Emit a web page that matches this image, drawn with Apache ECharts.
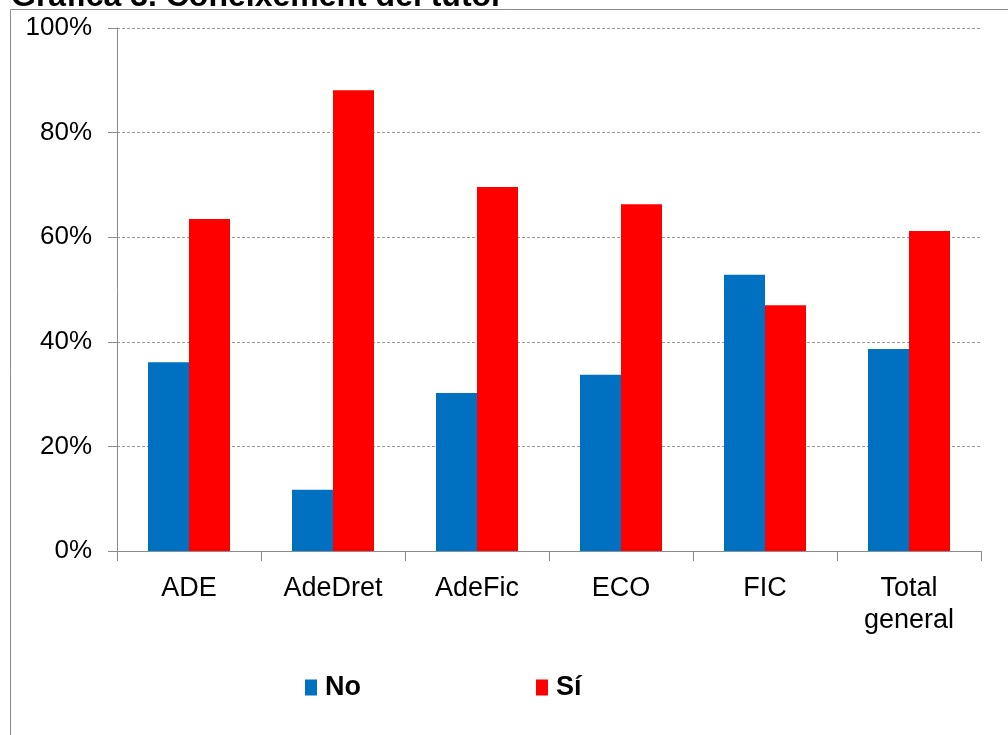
<!DOCTYPE html>
<html lang="ca">
<head>
<meta charset="UTF-8">
<title>Gràfica 3. Coneixement del tutor</title>
<script src="https://cdn.jsdelivr.net/npm/echarts@6/dist/echarts.min.js"></script>
<style>
  html, body { margin: 0; padding: 0; background: #fff; }
  #main { width: 1008px; height: 735px; }
</style>
</head>
<body>
<div id="main"></div>
<script>
// dades llegides del gràfic
var categories = ['ADE', 'AdeDret', 'AdeFic', 'ECO', 'FIC', 'Total general'];
var seriesNames = ['No', 'Sí'];
var valuesNo = [0.361, 0.117, 0.302, 0.337, 0.528, 0.386];
var valuesSi = [0.635, 0.881, 0.696, 0.663, 0.470, 0.612];
var colors = ['#0070C0', '#FF0000'];

var font = '"Liberation Sans", Arial, sans-serif';

var chart = echarts.init(document.getElementById('main'));

chart.setOption({
    animation: false,
    textStyle: { fontFamily: font },
    graphic: [
        {
            type: 'rect',
            shape: { x: 10.5, y: 9.5, width: 1100, height: 800 },
            style: { fill: 'none', stroke: '#8c8c8c', lineWidth: 1 },
            z: 0
        },
        {
            type: 'text',
            left: 11,
            top: -19,
            style: {
                text: 'Gràfica 3. Coneixement del tutor',
                font: 'bold 32px ' + font,
                fill: '#000'
            },
            z: 1
        }
    ],
    legend: {
        left: 305,
        top: 674,
        padding: 0,
        itemWidth: 12,
        itemHeight: 16,
        itemGap: 175,
        icon: 'rect',
        data: seriesNames,
        textStyle: {
            fontSize: 27,
            fontWeight: 'bold',
            color: '#000',
            fontFamily: font,
            padding: [0, 0, 0, 3]
        }
    },
    grid: { left: 117, right: 27, top: 28, bottom: 184 },
    xAxis: {
        type: 'category',
        data: categories,
        axisLine: { lineStyle: { color: '#8c8c8c', width: 1 } },
        axisTick: { show: true, length: 10, lineStyle: { color: '#8c8c8c' } },
        axisLabel: {
            interval: 0,
            margin: 22,
            fontSize: 27,
            lineHeight: 32,
            color: '#000',
            fontFamily: font,
            formatter: function (v) { return v.replace(' ', '\n'); }
        }
    },
    yAxis: {
        type: 'value',
        min: 0,
        max: 1,
        interval: 0.2,
        axisLine: { show: true, lineStyle: { color: '#8c8c8c', width: 1 } },
        axisTick: { show: true, length: 9, lineStyle: { color: '#8c8c8c' } },
        axisLabel: {
            margin: 25,
            fontSize: 26,
            color: '#000',
            fontFamily: font,
            formatter: function (v) { return Math.round(v * 100) + '%'; }
        },
        splitLine: { lineStyle: { color: '#9a9a9a', type: [3, 2], width: 1 } }
    },
    series: [
        {
            name: seriesNames[0],
            type: 'bar',
            data: valuesNo,
            barWidth: 41,
            barGap: '0%',
            itemStyle: { color: colors[0] }
        },
        {
            name: seriesNames[1],
            type: 'bar',
            data: valuesSi,
            barWidth: 41,
            barGap: '0%',
            itemStyle: { color: colors[1] }
        }
    ]
});
</script>
</body>
</html>
